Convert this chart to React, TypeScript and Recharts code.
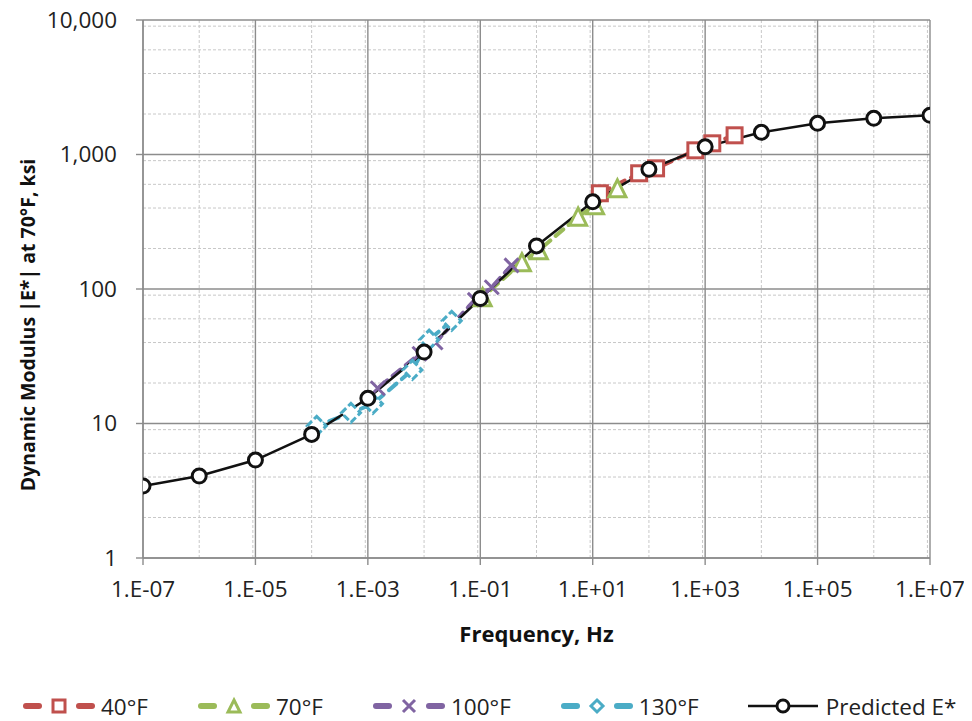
import { CartesianGrid, ComposedChart, Legend, Line, XAxis, YAxis } from "recharts"

// predicted master curve
const predFreq = [1e-7, 1e-6, 1e-5, 1e-4, 1e-3, 1e-2, 1e-1, 1, 10, 100, 1000, 1e4, 1e5, 1e6, 1e7]
const predE = [3.43, 4.07, 5.35, 8.3, 15.4, 34, 85, 209, 445, 776, 1140, 1462, 1706, 1857, 1955]

// measured, shifted to 70F
const freq40 = [3340, 1340, 670, 134, 67, 13.4]
const e40 = [1389, 1211, 1074, 789, 725, 515]
const freq70 = [27.5, 11, 5.5, 1.1, 0.55, 0.11]
const e70 = [560, 420, 345, 194, 158, 87]
const freq100 = [0.36, 0.16, 0.08, 0.016, 0.0083, 0.0015]
const e100 = [150, 103, 83, 40, 33, 18.3]
const freq130 = [0.031, 0.0123, 0.0062, 0.00123, 0.0005, 0.000123]
const e130 = [58, 42, 25, 14, 12, 9.6]

const xTicks = [1e-7, 1e-5, 1e-3, 1e-1, 10, 1e3, 1e5, 1e7]
const yTicks = [1, 10, 100, 1000, 10000]

const RED = "#C0504D"
const GREEN = "#9BBB59"
const PURPLE = "#8064A2"
const CYAN = "#4BACC6"
const FONT = "'Open Sans', sans-serif"
const GRID = "#8C8C8C"

const toRows = (f: number[], e: number[]) => f.map((x, i) => ({ f: x, e: e[i] }))

const minorX: number[] = []
for (let n = -7; n < 7; n++) {
    for (let k = 1; k < 10; k++) {
        if (k === 1 && (n + 7) % 2 === 0) continue
        minorX.push(k * Math.pow(10, n))
    }
}
const minorY: number[] = []
for (let n = 0; n < 4; n++) {
    for (let k = 2; k < 10; k++) minorY.push(k * Math.pow(10, n))
}

const fmtX = (v: number) => {
    const p = Math.round(Math.log10(v))
    const s = p < 0 ? "-" : "+"
    return `1.E${s}${String(Math.abs(p)).padStart(2, "0")}`
}
const fmtY = (v: number) => v.toLocaleString("en-US")

const Square = ({ cx, cy, size = 15, color, sw = 3 }: any) => (
    <rect x={cx - size / 2} y={cy - size / 2} width={size} height={size} fill="#fff" stroke={color} strokeWidth={sw} />
)
const Triangle = ({ cx, cy, size = 17, color, sw = 3 }: any) => (
    <polygon
        points={`${cx},${cy - size / 2} ${cx + size / 2},${cy + size / 2} ${cx - size / 2},${cy + size / 2}`}
        fill="#fff" stroke={color} strokeWidth={sw} strokeLinejoin="miter" />
)
const Cross = ({ cx, cy, size = 14, color, sw = 3 }: any) => {
    const h = size / 2
    return (
        <path d={`M${cx - h},${cy - h}L${cx + h},${cy + h}M${cx - h},${cy + h}L${cx + h},${cy - h}`}
            stroke={color} strokeWidth={sw} fill="none" />
    )
}
const Diamond = ({ cx, cy, size = 19, color, dashed = true, sw = 3 }: any) => {
    const h = size / 2
    return (
        <polygon points={`${cx},${cy - h} ${cx + h},${cy} ${cx},${cy + h} ${cx - h},${cy}`}
            fill="#fff" stroke={color} strokeWidth={sw} strokeDasharray={dashed ? "7 3" : undefined} />
    )
}
const Circle = ({ cx, cy, size = 14, sw = 3 }: any) => (
    <circle cx={cx} cy={cy} r={size / 2} fill="#fff" stroke="#111" strokeWidth={sw} />
)

const series = [
    { name: "40°F", color: RED, rows: toRows(freq40, e40), Mark: Square },
    { name: "70°F", color: GREEN, rows: toRows(freq70, e70), Mark: Triangle },
    { name: "100°F", color: PURPLE, rows: toRows(freq100, e100), Mark: Cross },
    { name: "130°F", color: CYAN, rows: toRows(freq130, e130), Mark: Diamond },
]

const YTitle = ({ viewBox }: any) => {
    const x = viewBox.x + 19
    const y = viewBox.y + viewBox.height / 2 + 36
    return (
        <text x={x} y={y} transform={`rotate(-90, ${x}, ${y})`} textAnchor="middle" dominantBaseline="central"
            fontFamily={FONT} fontWeight={700} fontSize={19.5} fill="#111">
            Dynamic Modulus |E*| at 70°F, ksi
        </text>
    )
}
const XTitle = ({ viewBox }: any) => (
    <text x={viewBox.x + viewBox.width / 2} y={viewBox.y + 75} textAnchor="middle" dominantBaseline="central"
        fontFamily={FONT} fontWeight={700} fontSize={22} fill="#111">
        Frequency, Hz
    </text>
)

const LegendBox = () => (
    <div style={{ display: "flex", alignItems: "center", height: 30, paddingLeft: 22, gap: 49, whiteSpace: "nowrap", width: 972, boxSizing: "border-box", fontFamily: FONT, fontSize: 22.5, color: "#222" }}>
        {series.map(s => (
            <div key={s.name} style={{ display: "flex", alignItems: "center", gap: 5, flexShrink: 0 }}>
                <svg width={74} height={22}>
                    <line x1={4} y1={11} x2={17} y2={11} stroke={s.color} strokeWidth={6} strokeLinecap="round" />
                    <line x1={57} y1={11} x2={70} y2={11} stroke={s.color} strokeWidth={6} strokeLinecap="round" />
                    <s.Mark cx={37} cy={11} size={12} color={s.color} dashed={false} sw={3} />
                </svg>
                <span>{s.name}</span>
            </div>
        ))}
        <div style={{ display: "flex", alignItems: "center", gap: 8, flexShrink: 0 }}>
            <svg width={70} height={22}>
                <line x1={0} y1={11} x2={70} y2={11} stroke="#111" strokeWidth={2.5} />
                <Circle cx={35} cy={11} size={12} />
            </svg>
            <span>Predicted E*</span>
        </div>
    </div>
)

export default function App() {
    return (
        <div style={{ margin: "-8px 0 0 -8px", width: 972, height: 721 }}>
            <ComposedChart width={972} height={721} margin={{ top: 20, right: 42, left: 8, bottom: 0 }}>
                <CartesianGrid verticalValues={minorX} horizontalValues={minorY} stroke="#C8C8C8" strokeDasharray="3 2" />
                <CartesianGrid stroke={GRID} strokeWidth={1.4} />
                <XAxis type="number" dataKey="f" scale="log" domain={[1e-7, 1e7]} ticks={xTicks} allowDataOverflow
                    tickFormatter={fmtX} height={133} tickSize={7} tickMargin={16} stroke={GRID} strokeWidth={1.4}
                    tick={{ fill: "#222", fontSize: 22.5, fontFamily: FONT }} label={(p: any) => <XTitle {...p} />} />
                <YAxis type="number" dataKey="e" scale="log" domain={[1, 10000]} ticks={yTicks} allowDataOverflow
                    tickFormatter={fmtY} width={135} tickSize={7} tickMargin={19} stroke={GRID} strokeWidth={1.4}
                    tick={{ fill: "#222", fontSize: 22.5, fontFamily: FONT }} label={(p: any) => <YTitle {...p} />} />
                <Legend verticalAlign="bottom" align="left" wrapperStyle={{ width: 972, left: 0 }} content={() => <LegendBox />} />
                {series.map(s => (
                    <Line key={s.name} data={s.rows} dataKey="e" name={s.name} stroke={s.color} strokeWidth={4}
                        strokeDasharray="10 7" strokeLinecap="round" isAnimationActive={false}
                        dot={(p: any) => <s.Mark key={`${s.name}-${p.index}`} cx={p.cx} cy={p.cy} color={s.color} />} />
                ))}
                <Line data={toRows(predFreq, predE)} dataKey="e" name="Predicted E*" stroke="#111" strokeWidth={2.5}
                    isAnimationActive={false}
                    dot={(p: any) => <Circle key={`pred-${p.index}`} cx={p.cx} cy={p.cy} />} />
            </ComposedChart>
        </div>
    )
}
